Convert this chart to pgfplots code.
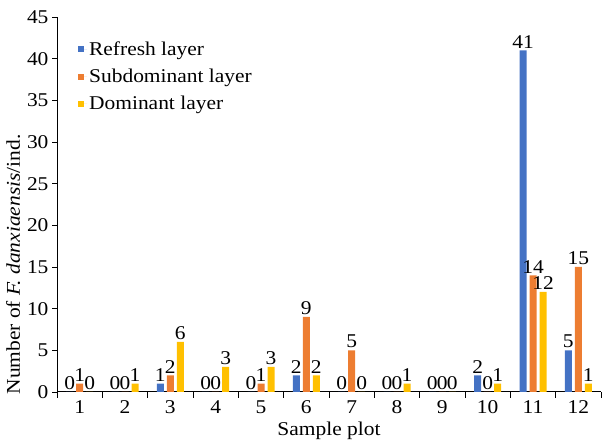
\documentclass[border=0pt]{standalone}
\usepackage{pgfplots}
\pgfplotsset{compat=1.18}
\usepackage{fontspec}
\setmainfont{Liberation Serif}[FakeStretch=1.1]
\definecolor{cblue}{HTML}{4472C4}
\definecolor{corange}{HTML}{ED7D31}
\definecolor{cyellow}{HTML}{FFC000}
\begin{document}
\begin{tikzpicture}[x=1pt,y=1pt]
\useasboundingbox (0,0) rectangle (602,446);
\begin{axis}[
  at={(57pt,54pt)}, anchor=south west,
  scale only axis, width=544pt, height=375pt,
  ybar=3pt, bar width=7pt,
  xmin=0.5, xmax=12.5, ymin=0, ymax=45,
  xtick={1,...,12},
  minor xtick={0.5,1.5,...,12.5},
  major x tick style={draw=none},
  ytick={0,5,...,45},
  axis x line*=bottom, axis y line*=left,
  axis line style={black, line width=1pt},
  tick align=outside, major tick length=5pt, minor tick length=6pt,
  tick style={black, line width=0.8pt},
  /pgf/number format/assume math mode=true,
  tick label style={font=\fontsize{19.5}{21}\selectfont},
  label style={font=\fontsize{19.5}{21}\selectfont},
  xlabel={Sample plot},
  xlabel style={yshift=-1pt},
  ylabel={Number of \textit{F. danxiaensis}/ind.},
  ylabel style={at={(ticklabel cs:0.34)}},
  nodes near coords,
  nodes near coords style={font=\fontsize{19.5}{21}\selectfont, inner sep=2pt, text=black},
  legend style={draw=none, fill=none, at={(0.033,0.945)}, anchor=north west,
    font=\fontsize{19.5}{21}\selectfont, row sep=8pt,
    /tikz/every even column/.append style={column sep=0pt}},
  legend cell align=left,
  legend image code/.code={\fill[#1] (0pt,-3pt) rectangle (6pt,3pt); \path (0pt,0pt) -- (9pt,0pt);},
]
\addplot[fill=cblue, draw=none] coordinates {(1,0) (2,0) (3,1) (4,0) (5,0) (6,2) (7,0) (8,0) (9,0) (10,2) (11,41) (12,5)};
\addplot[fill=corange, draw=none] coordinates {(1,1) (2,0) (3,2) (4,0) (5,1) (6,9) (7,5) (8,0) (9,0) (10,0) (11,14) (12,15)};
\addplot[fill=cyellow, draw=none] coordinates {(1,0) (2,1) (3,6) (4,3) (5,3) (6,2) (7,0) (8,1) (9,0) (10,1) (11,12) (12,1)};
\legend{Refresh layer, Subdominant layer, Dominant layer}
\end{axis}
\end{tikzpicture}
\end{document}
